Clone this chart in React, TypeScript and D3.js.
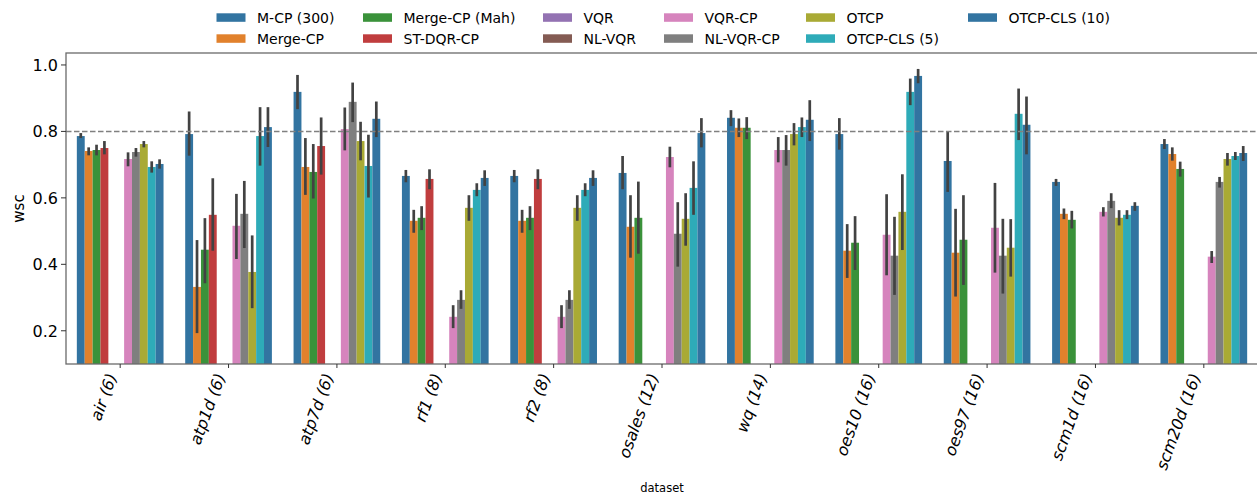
import React from 'react';
import * as d3 from 'd3';

// each entry: [mean, ciLow, ciHigh], null when the method was not run
type Ci = [number, number, number] | null;

const datasets = ['air (6)', 'atp1d (6)', 'atp7d (6)', 'rf1 (8)', 'rf2 (8)', 'osales (12)', 'wq (14)', 'oes10 (16)', 'oes97 (16)', 'scm1d (16)', 'scm20d (16)'];

const methods = ['M-CP (300)', 'Merge-CP', 'Merge-CP (Mah)', 'ST-DQR-CP', 'VQR', 'NL-VQR', 'VQR-CP', 'NL-VQR-CP', 'OTCP', 'OTCP-CLS (5)', 'OTCP-CLS (10)'];

const colors = ['#3274a1', '#e1812c', '#3a923a', '#c03d3e', '#9372b2', '#845b53', '#d684bd', '#7f7f7f', '#a9aa35', '#2eabb8', '#3274a1'];

const mcp300: Ci[] = [
  [0.786, 0.780, 0.795], [0.792, 0.727, 0.860], [0.919, 0.867, 0.970], [0.666, 0.647, 0.684],
  [0.666, 0.647, 0.684], [0.675, 0.626, 0.726], [0.841, 0.816, 0.864], [0.792, 0.745, 0.840],
  [0.711, 0.618, 0.801], [0.648, 0.636, 0.657], [0.762, 0.747, 0.777],
];
const mergeCp: Ci[] = [
  [0.741, 0.728, 0.752], [0.332, 0.193, 0.473], [0.693, 0.609, 0.780], [0.531, 0.495, 0.564],
  [0.531, 0.495, 0.564], [0.513, 0.420, 0.608], [0.811, 0.783, 0.839], [0.441, 0.359, 0.521],
  [0.435, 0.303, 0.567], [0.552, 0.536, 0.568], [0.732, 0.712, 0.752],
];
const mergeCpMah: Ci[] = [
  [0.744, 0.728, 0.760], [0.444, 0.343, 0.539], [0.678, 0.598, 0.762], [0.540, 0.503, 0.575],
  [0.540, 0.503, 0.575], [0.540, 0.432, 0.649], [0.811, 0.777, 0.843], [0.465, 0.383, 0.545],
  [0.474, 0.338, 0.608], [0.534, 0.508, 0.561], [0.687, 0.664, 0.709],
];
const stDqrCp: Ci[] = [
  [0.750, 0.731, 0.771], [0.549, 0.441, 0.659], [0.756, 0.670, 0.842], [0.657, 0.626, 0.686],
  [0.657, 0.626, 0.686], null, null, null, null, null, null,
];
const vqr: Ci[] = [null, null, null, null, null, null, null, null, null, null, null];
const nlVqr: Ci[] = [null, null, null, null, null, null, null, null, null, null, null];
const vqrCp: Ci[] = [
  [0.717, 0.695, 0.737], [0.516, 0.416, 0.612], [0.807, 0.743, 0.872], [0.242, 0.208, 0.277],
  [0.242, 0.208, 0.277], [0.723, 0.692, 0.754], [0.744, 0.707, 0.783], [0.489, 0.367, 0.611],
  [0.510, 0.375, 0.645], [0.558, 0.544, 0.572], [0.423, 0.404, 0.440],
];
const nlVqrCp: Ci[] = [
  [0.738, 0.724, 0.750], [0.552, 0.449, 0.651], [0.889, 0.828, 0.947], [0.293, 0.266, 0.322],
  [0.293, 0.266, 0.322], [0.492, 0.393, 0.587], [0.744, 0.697, 0.789], [0.426, 0.308, 0.543],
  [0.426, 0.312, 0.537], [0.591, 0.569, 0.614], [0.648, 0.631, 0.663],
];
const otcp: Ci[] = [
  [0.762, 0.752, 0.771], [0.377, 0.268, 0.487], [0.771, 0.713, 0.829], [0.570, 0.531, 0.608],
  [0.570, 0.531, 0.608], [0.537, 0.456, 0.614], [0.792, 0.758, 0.825], [0.558, 0.443, 0.671],
  [0.450, 0.363, 0.536], [0.540, 0.517, 0.563], [0.717, 0.697, 0.735],
];
const otcpCls5: Ci[] = [
  [0.693, 0.676, 0.710], [0.786, 0.697, 0.873], [0.696, 0.601, 0.790], [0.624, 0.605, 0.644],
  [0.624, 0.605, 0.644], [0.630, 0.549, 0.710], [0.813, 0.783, 0.842], [0.919, 0.879, 0.959],
  [0.853, 0.774, 0.929], [0.549, 0.536, 0.563], [0.726, 0.714, 0.738],
];
const otcpCls10: Ci[] = [
  [0.702, 0.688, 0.716], [0.813, 0.753, 0.873], [0.838, 0.783, 0.890], [0.660, 0.636, 0.683],
  [0.660, 0.636, 0.683], [0.795, 0.752, 0.840], [0.835, 0.771, 0.894], [0.967, 0.945, 0.988],
  [0.820, 0.731, 0.905], [0.576, 0.561, 0.587], [0.735, 0.711, 0.756],
];

const series: Ci[][] = [mcp300, mergeCp, mergeCpMah, stDqrCp, vqr, nlVqr, vqrCp, nlVqrCp, otcp, otcpCls5, otcpCls10];

const yTicks = [0.2, 0.4, 0.6, 0.8, 1.0];
const refLine = 0.8;

const W = 1257;
const H = 498;
const margin = { top: 53, right: -1, bottom: 134, left: 66 };

// legend is laid out in columns of two, like matplotlib's ncol=6
const legendCols = [216.5, 363, 543, 664, 806, 968];

const App = () => {
  const x = d3.scaleBand<string>()
    .domain(datasets)
    .range([margin.left, W - margin.right])
    .padding(0);
  const bw = x.bandwidth();
  const hue = d3.scaleBand<string>()
    .domain(methods)
    .range([-0.4 * bw, 0.4 * bw]);
  const y = d3.scaleLinear()
    .domain([0.1, 1.036])
    .range([H - margin.bottom, margin.top]);

  const plotLeft = margin.left;
  const plotRight = W - margin.right;
  const plotTop = margin.top;
  const plotBottom = H - margin.bottom;
  const font = 'DejaVu Sans, sans-serif';

  return (
    <svg width={W} height={H} style={{ position: 'absolute', left: 0, top: 0, background: '#fff' }} fontFamily={font}>
      <defs>
        <clipPath id="plot">
          <rect x={plotLeft} y={plotTop} width={plotRight - plotLeft} height={plotBottom - plotTop} />
        </clipPath>
      </defs>

      {/* bars */}
      <g clipPath="url(#plot)">
        {series.map((s, mi) =>
          s.map((d, di) => {
            if (!d) return null;
            const bx = (x(datasets[di]) as number) + bw / 2 + (hue(methods[mi]) as number);
            return (
              <rect key={`${mi}-${di}`} x={bx} y={y(d[0])} width={hue.bandwidth()}
                height={y(0) - y(d[0])} fill={colors[mi]} />
            );
          })
        )}
        {/* error bars */}
        {series.map((s, mi) =>
          s.map((d, di) => {
            if (!d) return null;
            const cx = (x(datasets[di]) as number) + bw / 2 + (hue(methods[mi]) as number) + hue.bandwidth() / 2;
            return (
              <line key={`e${mi}-${di}`} x1={cx} x2={cx} y1={y(d[1])} y2={y(d[2])}
                stroke="#424242" strokeWidth={2.7} />
            );
          })
        )}
        <line x1={plotLeft} x2={plotRight} y1={y(refLine)} y2={y(refLine)}
          stroke="#808080" strokeWidth={1.5} strokeDasharray="5.5,2.5" />
      </g>

      {/* spines */}
      <rect x={plotLeft} y={plotTop} width={plotRight - plotLeft} height={plotBottom - plotTop}
        fill="none" stroke="#6a6a6a" strokeWidth={1.3} />

      {/* y axis */}
      {yTicks.map(t => (
        <g key={t}>
          <line x1={plotLeft - 5} x2={plotLeft} y1={y(t)} y2={y(t)} stroke="#333" strokeWidth={1} />
          <text x={plotLeft - 8} y={y(t)} dy="0.36em" textAnchor="end" fontSize={16} fill="#000">
            {t.toFixed(1)}
          </text>
        </g>
      ))}
      <text transform={`translate(24,${(plotTop + plotBottom) / 2}) rotate(-90)`} textAnchor="middle"
        fontSize={15} fill="#000">wsc</text>

      {/* x axis */}
      {datasets.map(ds => {
        const cx = (x(ds) as number) + bw / 2;
        return (
          <g key={ds}>
            <line x1={cx} x2={cx} y1={plotBottom} y2={plotBottom + 4} stroke="#333" strokeWidth={1} />
            <text transform={`translate(${cx - 3},${plotBottom + 12}) rotate(-70)`} textAnchor="end"
              fontSize={16} fontStyle="italic" fill="#000">{ds}</text>
          </g>
        );
      })}
      <text x={(plotLeft + plotRight) / 2} y={492} textAnchor="middle" fontSize={11.5} fill="#000">dataset</text>

      {/* legend */}
      {methods.map((m, i) => {
        const lx = legendCols[Math.floor(i / 2)];
        const ly = i % 2 === 0 ? 13.3 : 34.3;
        return (
          <g key={m}>
            <rect x={lx} y={ly} width={29} height={8.5} fill={colors[i]} />
            <text x={lx + 40.5} y={ly + 4.25} dy="0.36em" fontSize={14} fill="#000">{m}</text>
          </g>
        );
      })}
    </svg>
  );
};

export default App;
